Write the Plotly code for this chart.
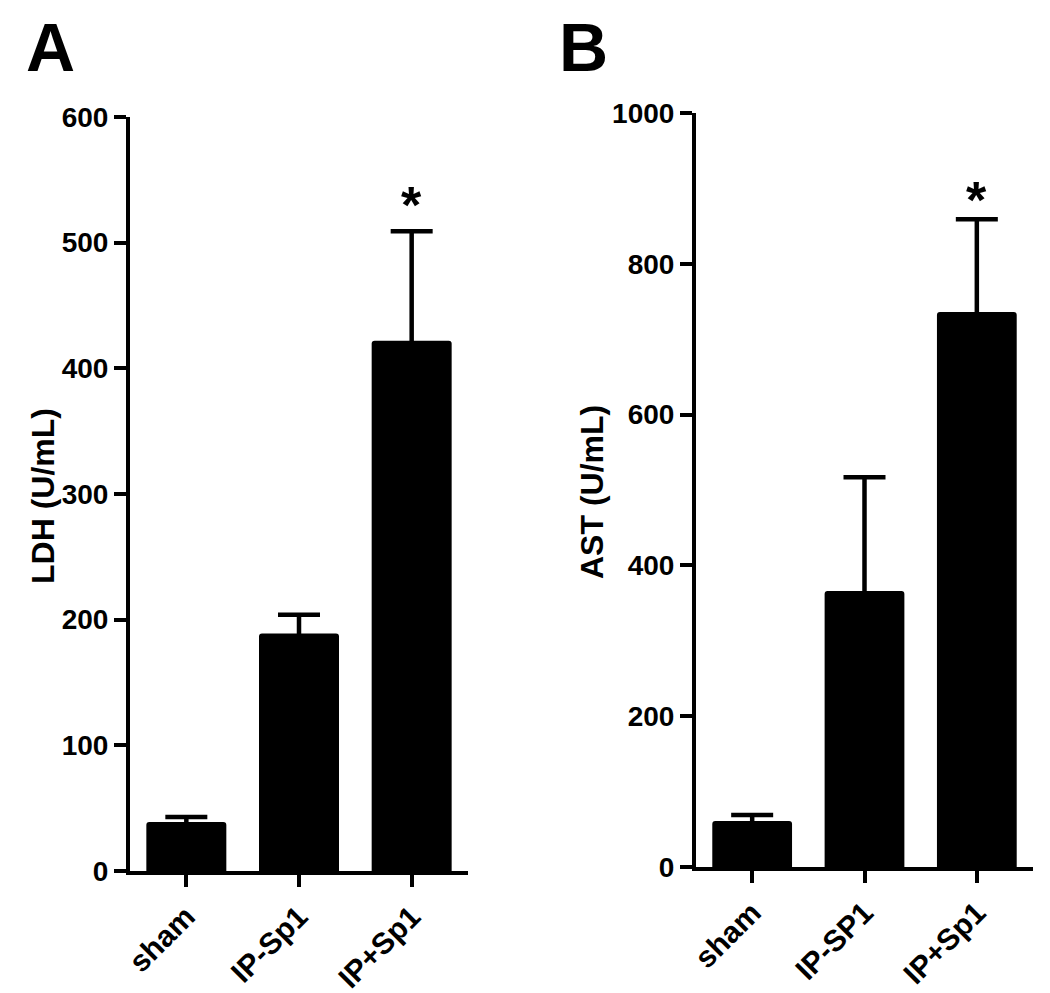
import plotly.graph_objects as go

# Data
cats_a = ["sham", "IP-Sp1", "IP+Sp1"]
ldh_mean = [39, 189, 422]
ldh_upper = [43, 204, 509]

cats_b = ["sham", "IP-SP1", "IP+Sp1"]
ast_mean = [61, 366, 736]
ast_upper = [69, 517, 859]

W, H = 1050, 993
FONT = "Liberation Sans, Arial, Helvetica, sans-serif"
OFF = 8  # page body margin offset

def px_x(p):
    return (p - OFF) / W

def px_y(p):
    return 1 - (p - OFF) / H

fig = go.Figure()

def add_panel(cats, mean, upper, xa, ya):
    err = [u - m for u, m in zip(upper, mean)]
    fig.add_trace(go.Bar(
        x=cats, y=mean, xaxis=xa, yaxis=ya,
        marker=dict(color="black", line=dict(width=0), cornerradius=3),
        width=0.71,
        error_y=dict(type="data", symmetric=False, array=err,
                     arrayminus=[m * 0.5 for m in mean], color="black",
                     thickness=4.5, width=21),
        showlegend=False,
    ))

add_panel(cats_a, ldh_mean, ldh_upper, "x", "y")
add_panel(cats_b, ast_mean, ast_upper, "x2", "y2")

ytickfont = dict(family=FONT, size=28, color="black", weight="bold")
xtickfont = dict(family=FONT, size=30, color="black", weight="bold")
axis_common = dict(showline=True, linewidth=4, linecolor="black",
                   ticks="outside", ticklen=12, tickwidth=4, tickcolor="black",
                   showgrid=False, zeroline=False, automargin=False)

fig.update_layout(
    width=W, height=H, autosize=False,
    margin=dict(l=0, r=0, t=0, b=0, autoexpand=False),
    plot_bgcolor="white", paper_bgcolor="white",
    xaxis=dict(domain=[px_x(130), px_x(468)], range=[-0.5, 2.5],
               anchor="y", tickangle=-45, tickfont=xtickfont, **axis_common),
    yaxis=dict(domain=[px_y(871), px_y(117)], range=[0, 600], dtick=100,
               anchor="x", tickfont=ytickfont, **axis_common),
    xaxis2=dict(domain=[px_x(696), px_x(1033)], range=[-0.5, 2.5],
                anchor="y2", tickangle=-45, tickfont=xtickfont, **axis_common),
    yaxis2=dict(domain=[px_y(867), px_y(113)], range=[0, 1000], dtick=200,
                anchor="x2", tickfont=ytickfont, **axis_common),
)

titlefont = dict(family=FONT, size=32, color="black", weight="bold")
letterfont = dict(family=FONT, size=68, color="black", weight="bold")
starfont = dict(family=FONT, size=52, color="black", weight="bold")

annotations = [
    dict(text="LDH (U/mL)", x=px_x(43), y=px_y(496), xref="paper", yref="paper",
         textangle=-90, showarrow=False, font=titlefont,
         xanchor="center", yanchor="middle"),
    dict(text="AST (U/mL)", x=px_x(592), y=px_y(492), xref="paper", yref="paper",
         textangle=-90, showarrow=False, font=titlefont,
         xanchor="center", yanchor="middle"),
    dict(text="A", x=px_x(50), y=px_y(47), xref="paper", yref="paper",
         showarrow=False, font=letterfont, xanchor="center", yanchor="middle"),
    dict(text="B", x=px_x(583), y=px_y(47), xref="paper", yref="paper",
         showarrow=False, font=letterfont, xanchor="center", yanchor="middle"),
    dict(text="*", x=cats_a[2], y=ldh_upper[2], xref="x", yref="y",
         showarrow=False, font=starfont,
         xanchor="center", yanchor="bottom", yshift=-5),
    dict(text="*", x=cats_b[2], y=ast_upper[2], xref="x2", yref="y2",
         showarrow=False, font=starfont,
         xanchor="center", yanchor="bottom", yshift=-12),
]
fig.update_layout(annotations=annotations)

fig.write_html("out.html")
